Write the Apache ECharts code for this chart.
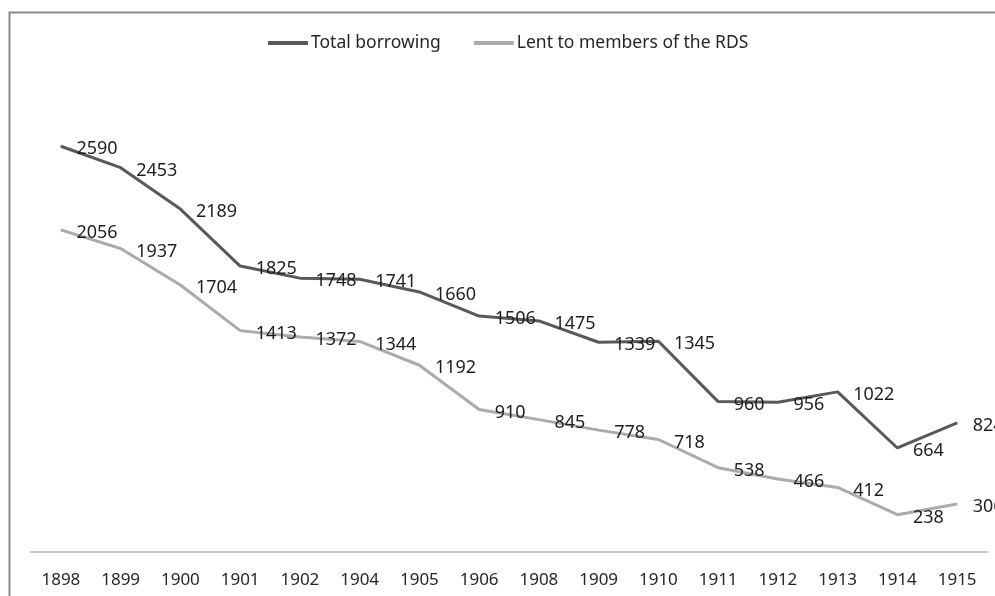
<!DOCTYPE html>
<html>
<head>
<meta charset="utf-8">
<title>Borrowing</title>
<script src="https://cdn.jsdelivr.net/npm/echarts@6/dist/echarts.min.js"></script>
<style>
    html, body {margin: 0; padding: 0; background: #fff;}
    #container {width: 995px; height: 596px;}
</style>
</head>
<body>
<div id="container"></div>
<script>
var years = ['1898', '1899', '1900', '1901', '1902', '1904', '1905', '1906',
             '1908', '1909', '1910', '1911', '1912', '1913', '1914', '1915'];
var totalBorrowing = [2590, 2453, 2189, 1825, 1748, 1741, 1660, 1506,
                      1475, 1339, 1345, 960, 956, 1022, 664, 824];
var lentToMembers = [2056, 1937, 1704, 1413, 1372, 1344, 1192, 910,
                     845, 778, 718, 538, 466, 412, 238, 306];
var seriesNames = ['Total borrowing', 'Lent to members of the RDS'];

var dom = document.getElementById("container");
var myChart = echarts.init(dom);
var option = null;
var fontName = 'Noto Sans';

function makeLine(name, data, color) {
    return {
        name: name,
        type: 'line',
        data: data,
        // tiny symbol so the labels get drawn, hidden under the line
        symbol: 'circle',
        symbolSize: 1,
        showSymbol: true,
        smooth: false,
        lineStyle: {
            color: color,
            width: 3
        },
        itemStyle: {
            color: color
        },
        label: {
            show: true,
            position: 'right',
            distance: 15,
            offset: [0, 3],
            color: '#1f1f1f',
            fontFamily: fontName,
            fontSize: 18
        },
        emphasis: {disabled: true}
    };
}

option = {
    backgroundColor: '#ffffff',
    animation: false,
    // frame round the chart area
    graphic: [{
        type: 'rect',
        left: 7,
        top: 10,
        shape: {width: 1200, height: 800},
        style: {fill: 'none', stroke: '#8a8a8a', lineWidth: 2},
        silent: true
    }],
    legend: {
        data: seriesNames,
        left: 268,
        top: 34,
        padding: 0,
        icon: 'rect',
        itemWidth: 40,
        itemHeight: 4,
        itemGap: 33,
        textStyle: {
            fontFamily: fontName,
            fontSize: 17.5,
            color: '#262626',
            padding: [0, 0, 0, -2]
        }
    },
    grid: {
        left: 31,
        right: 8,
        top: 82,
        bottom: 44,
        containLabel: false
    },
    xAxis: {
        type: 'category',
        data: years,
        boundaryGap: true,
        axisLine: {show: true, lineStyle: {color: '#c8c8c8', width: 2}},
        axisTick: {show: false},
        axisLabel: {
            color: '#262626',
            fontFamily: fontName,
            fontSize: 17,
            margin: 20
        }
    },
    yAxis: {
        type: 'value',
        min: 0,
        max: 3000,
        show: false,
        splitLine: {show: false}
    },
    series: [
        makeLine(seriesNames[0], totalBorrowing, '#595959'),
        makeLine(seriesNames[1], lentToMembers, '#ababab')
    ]
};
if (option && typeof option === "object") {
    myChart.setOption(option, true);
}
</script>
</body>
</html>
